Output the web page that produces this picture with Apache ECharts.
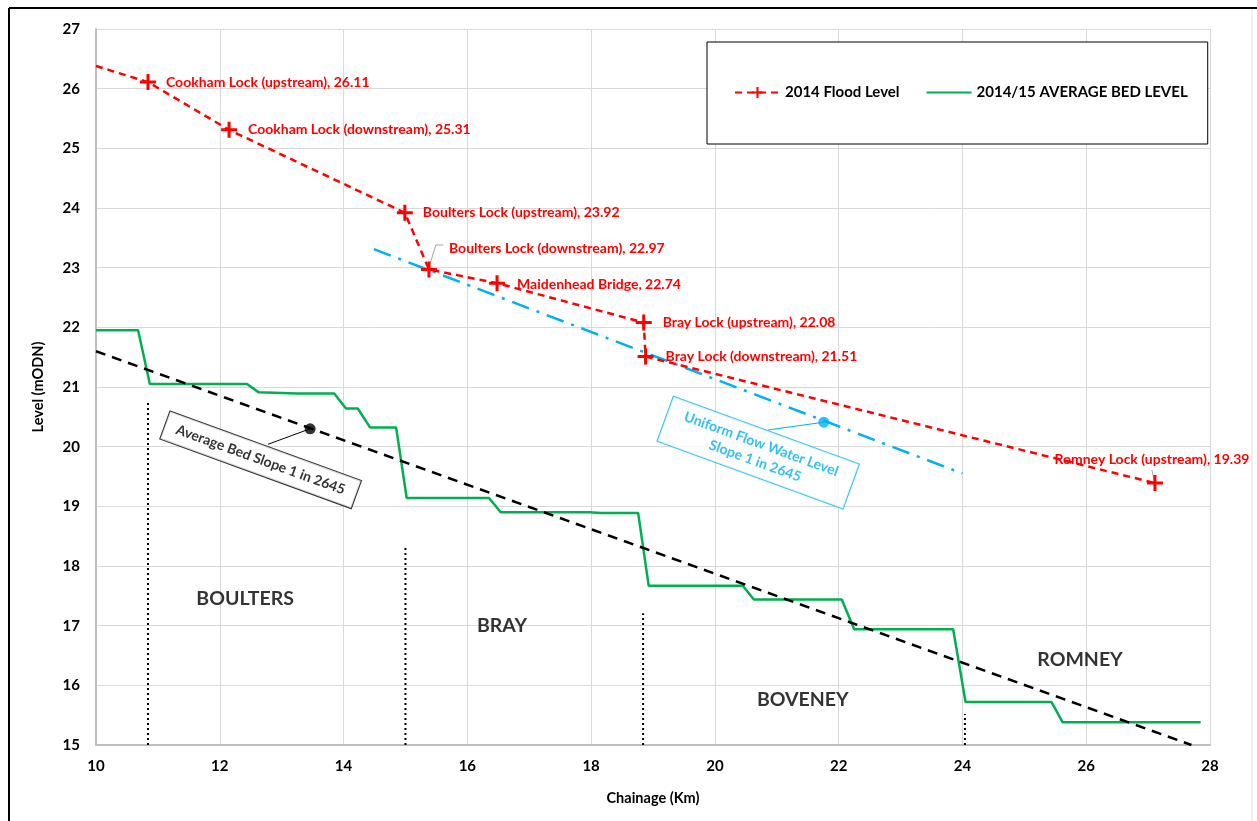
<!DOCTYPE html>
<html><head><meta charset="utf-8">
<script src="https://cdn.jsdelivr.net/npm/echarts@6/dist/echarts.min.js"></script>
<style>html,body{margin:0;padding:0;background:#fff}#c{width:1257px;height:821px}</style>
</head><body><div id="c"></div>
<script>
// ---------- data ----------
const floodChainage = [10, 10.84, 12.15, 14.99, 15.38, 16.48, 18.85, 18.88, 27.11];
const floodLevel    = [26.38, 26.11, 25.31, 23.92, 22.97, 22.74, 22.08, 21.51, 19.39];
const floodNames    = ['', 'Cookham Lock (upstream)', 'Cookham Lock (downstream)', 'Boulters Lock (upstream)',
  'Boulters Lock (downstream)', 'Maidenhead Bridge', 'Bray Lock (upstream)', 'Bray Lock (downstream)', 'Romney Lock (upstream)'];

const bedChainage = [10, 10.68, 10.87, 12.44, 12.63, 13.25, 13.85, 14.04, 14.23, 14.43, 14.85, 15.02, 16.35, 16.54,
  17.98, 18.15, 18.76, 18.93, 20.45, 20.63, 22.05, 22.25, 23.85, 24.05, 25.44, 25.62, 27.85];
const bedLevel = [21.95, 21.95, 21.05, 21.05, 20.91, 20.89, 20.89, 20.64, 20.64, 20.32, 20.32, 19.14, 19.14, 18.90,
  18.90, 18.89, 18.89, 17.67, 17.67, 17.44, 17.44, 16.94, 16.94, 15.72, 15.72, 15.38, 15.38];

const avgSlopeChainage = [10, 27.7];
const avgSlopeLevel    = [21.6, 15.0];
const uniformChainage  = [14.49, 24.0];
const uniformLevel     = [23.31, 19.55];

const sectionChainage = [10.84, 15.0, 18.84, 24.04];
const sectionTop      = [20.76, 18.35, 17.21, 15.52];

const reachNames     = ['BOULTERS', 'BRAY', 'BOVENEY', 'ROMNEY'];
const reachChainage  = [12.41, 16.56, 21.42, 25.9];
const reachLevel     = [17.46, 17.0, 15.76, 16.43];

const xTicks = {min: 10, max: 28, interval: 2};
const yTicks = {min: 15, max: 27, interval: 1};

// ---------- styles / layout ----------
const FONT = 'Lato, "Open Sans", sans-serif';
const RED = '#FF0000', GREEN = '#00B050', BLUE = '#00B0F0';
const PLUS = 'path://M6.5,0H9.5V6.5H16V9.5H9.5V16H6.5V9.5H0V6.5H6.5Z';
const labelLayout = [
  null,
  {position: 'right', offset: [5, 0]},
  {position: 'right', offset: [6, 0]},
  {position: 'right', offset: [5, 0]},
  {position: 'right', offset: [7, -21]},
  {position: 'right', offset: [7, 1]},
  {position: 'right', offset: [6, 0]},
  {position: 'right', offset: [7, 0]},
  {position: 'top', offset: [-3, -4]}
];

const floodData = floodChainage.map((x, i) => {
  const item = {value: [x, floodLevel[i]]};
  if (!floodNames[i]) { item.symbol = 'none'; }
  else {
    item.label = Object.assign({show: true, formatter: floodNames[i] + ', ' + floodLevel[i].toFixed(2)}, labelLayout[i]);
  }
  return item;
});
const pairs = (xs, ys) => xs.map((x, i) => [x, ys[i]]);

const sectionSeries = sectionChainage.map((x, i) => ({
  type: 'line', data: [[x, yTicks.min], [x, sectionTop[i]]], symbol: 'none', silent: true,
  lineStyle: {color: '#000', width: 2, type: [2, 3]}, z: 3
}));

// leader lines for labels (annotation)
const leaderLines = [
  {pts: [[15.38, 23.0], [15.49, 23.38], [15.61, 23.38]], color: '#a6a6a6'},
  {pts: [[27.11, 19.39], [27.06, 19.61]], color: '#a6a6a6'},
  {pts: [[12.78, 20.04], [13.46, 20.30]], color: '#000'},
  {pts: [[20.86, 20.28], [21.76, 20.41]], color: BLUE}
];

const chart = echarts.init(document.getElementById('c'));
chart.setOption({
  animation: false,
  backgroundColor: '#fff',
  textStyle: {fontFamily: FONT},
  grid: {left: 96, top: 29, width: 1114, height: 716, containLabel: false},
  legend: {
    left: 707, top: 42,
    padding: [43, 20, 44, 27],
    itemGap: 26, itemWidth: 45, itemHeight: 14, itemTextGap: 4,
    borderColor: '#000', borderWidth: 1, backgroundColor: '#fff',
    textStyle: {fontFamily: FONT, fontWeight: 'bold', fontSize: 15, color: '#000'},
    data: [
      {name: '2014 Flood Level'},
      {name: '2014/15 AVERAGE BED LEVEL', itemStyle: {opacity: 0}}
    ]
  },
  xAxis: {
    type: 'value', min: xTicks.min, max: xTicks.max, interval: xTicks.interval,
    name: 'Chainage (Km)', nameLocation: 'middle', nameGap: 46,
    nameTextStyle: {fontFamily: FONT, fontWeight: 'bold', fontSize: 14.5, color: '#000'},
    axisLine: {lineStyle: {color: '#bfbfbf', width: 2}},
    axisTick: {show: false},
    axisLabel: {fontFamily: FONT, fontWeight: 'bold', fontSize: 15, color: '#000', margin: 14},
    splitLine: {show: true, lineStyle: {color: '#d9d9d9', width: 1}}
  },
  yAxis: {
    type: 'value', min: yTicks.min, max: yTicks.max, interval: yTicks.interval,
    name: 'Level (mODN)', nameLocation: 'middle', nameGap: 50, nameRotate: 90,
    nameTextStyle: {fontFamily: FONT, fontWeight: 'bold', fontSize: 14.5, color: '#000'},
    axisLine: {show: true, lineStyle: {color: '#bfbfbf', width: 2}},
    axisTick: {show: false},
    axisLabel: {fontFamily: FONT, fontWeight: 'bold', fontSize: 15, color: '#000', margin: 16},
    splitLine: {show: true, lineStyle: {color: '#d9d9d9', width: 1}}
  },
  graphic: [
    {type: 'line', shape: {x1: 9, y1: 8, x2: 1257, y2: 8}, style: {stroke: '#000', lineWidth: 2}, silent: true},
    {type: 'line', shape: {x1: 9, y1: 8, x2: 9, y2: 821}, style: {stroke: '#000', lineWidth: 2}, silent: true},
    {type: 'line', shape: {x1: 1252, y1: 9, x2: 1252, y2: 821}, style: {stroke: '#e0e0e0', lineWidth: 1}, silent: true}
  ],
  series: [
    ...sectionSeries,
    {
      name: '2014/15 AVERAGE BED LEVEL', type: 'line', data: pairs(bedChainage, bedLevel),
      symbol: 'none', lineStyle: {color: GREEN, width: 2.5}, itemStyle: {color: GREEN}, z: 4
    },
    {
      name: 'avgSlope', type: 'line', data: pairs(avgSlopeChainage, avgSlopeLevel), symbol: 'none', silent: true,
      lineStyle: {color: '#000', width: 2.5, type: [10, 7]}, z: 5
    },
    {
      name: 'uniform', type: 'line', data: pairs(uniformChainage, uniformLevel), symbol: 'none', silent: true,
      lineStyle: {color: BLUE, width: 2.5, type: [18, 8, 3, 8]}, z: 5
    },
    ...leaderLines.map(l => ({
      type: 'line', data: l.pts, symbol: 'none', silent: true,
      lineStyle: {color: l.color, width: 1}, z: 6
    })),
    {
      type: 'scatter', silent: true, z: 7,
      data: [
        {value: [13.46, 20.30], itemStyle: {color: '#000'}},
        {value: [21.76, 20.41], itemStyle: {color: BLUE}}
      ],
      symbolSize: 11
    },
    {
      name: '2014 Flood Level', type: 'line', data: floodData,
      symbol: PLUS, symbolSize: 16, showAllSymbol: true,
      lineStyle: {color: RED, width: 2.5, type: [7, 5]},
      itemStyle: {color: RED},
      label: {color: RED, fontFamily: FONT, fontWeight: 'bold', fontSize: 14},
      z: 8
    },
    {
      type: 'scatter', silent: true, symbolSize: 0, z: 9,
      data: reachNames.map((n, i) => ({value: [reachChainage[i], reachLevel[i]], name: n})),
      label: {show: true, position: 'inside', formatter: p => p.name,
        fontFamily: FONT, fontWeight: 'bold', fontSize: 19.5, color: '#000'}
    },
    {
      type: 'scatter', silent: true, symbolSize: 0, z: 10,
      data: [
        {value: [12.66, 19.78], name: 'Average Bed Slope 1 in 2645',
          label: {color: '#000', borderColor: '#000', padding: [6, 12, 5, 12]}},
        {value: [20.70, 19.90], name: 'Uniform Flow Water Level\nSlope 1 in 2645',
          label: {color: BLUE, borderColor: BLUE, padding: [6, 17, 5, 17]}}
      ],
      label: {show: true, position: 'inside', formatter: p => p.name, rotate: -20,
        borderWidth: 1, backgroundColor: '#fff', align: 'center', lineHeight: 18,
        fontFamily: FONT, fontWeight: 'bold', fontSize: 14}
    }
  ]
});
</script>
</body></html>
